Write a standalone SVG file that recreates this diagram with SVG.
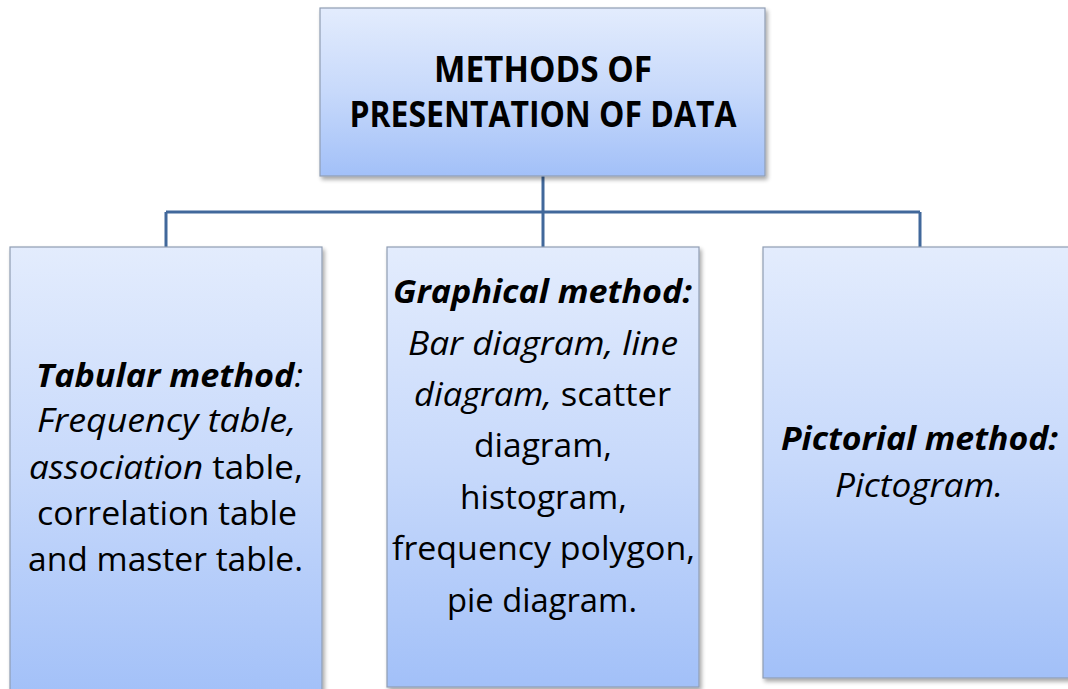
<svg xmlns="http://www.w3.org/2000/svg" width="1068" height="689" viewBox="0 0 1068 689">
<defs>
<linearGradient id="g" x1="0" y1="0" x2="0" y2="1">
<stop offset="0" stop-color="#e3ecfd"/>
<stop offset="0.5" stop-color="#c7d9fb"/>
<stop offset="1" stop-color="#a2c0f8"/>
</linearGradient>
<filter id="sh" x="-5%" y="-5%" width="115%" height="115%">
<feGaussianBlur in="SourceAlpha" stdDeviation="2"/>
<feOffset dx="2" dy="3"/>
<feComponentTransfer><feFuncA type="linear" slope="0.35"/></feComponentTransfer>
<feMerge><feMergeNode/><feMergeNode in="SourceGraphic"/></feMerge>
</filter>
</defs>
<style>
.box{fill:url(#g);stroke:#8f9db3;stroke-width:1.2;filter:url(#sh)}
.t{font-family:"Open Sans","Liberation Sans",sans-serif;fill:#000;text-anchor:middle}
.title{font-size:36px;font-weight:bold}
.l{font-size:32px}
.m{font-size:33px}
.i{font-style:italic}
.b{font-weight:bold}
.conn{fill:none;stroke:#41689b;stroke-width:3}
</style>
<rect width="1068" height="689" fill="#fff"/>
<g id="connectors">
<path class="conn" d="M543 176 V212 M166 212 H920 M166 212 V247 M543 212 V247 M920 212 V247"/>
</g>
<g id="root">
<rect class="box" x="320" y="8" width="445" height="168"/>
<text class="t title" x="543" y="82" textLength="218" lengthAdjust="spacingAndGlyphs">METHODS OF</text>
<text class="t title" x="543" y="127" textLength="387" lengthAdjust="spacingAndGlyphs">PRESENTATION OF DATA</text>
</g>
<g id="tabular">
<rect class="box" x="10" y="247" width="312" height="452"/>
<text class="t l" x="169.5" y="387" textLength="267" lengthAdjust="spacingAndGlyphs"><tspan class="b i">Tabular method</tspan><tspan class="i">:</tspan></text>
<text class="t l i" x="166.5" y="432" textLength="259" lengthAdjust="spacingAndGlyphs">Frequency table,</text>
<text class="t l" x="166" y="479" textLength="274" lengthAdjust="spacingAndGlyphs"><tspan class="i">association</tspan> table,</text>
<text class="t l" x="167" y="525" textLength="260" lengthAdjust="spacingAndGlyphs">correlation table</text>
<text class="t l" x="165.5" y="571" textLength="275" lengthAdjust="spacingAndGlyphs">and master table.</text>
</g>
<g id="graphical">
<rect class="box" x="387" y="247" width="312" height="440"/>
<text class="t m b i" x="542.5" y="303" textLength="299" lengthAdjust="spacingAndGlyphs">Graphical method:</text>
<text class="t m i" x="543" y="355" textLength="270" lengthAdjust="spacingAndGlyphs">Bar diagram, line</text>
<text class="t m" x="542.5" y="406" textLength="257" lengthAdjust="spacingAndGlyphs"><tspan class="i">diagram,</tspan> scatter</text>
<text class="t m" x="543" y="457" textLength="138" lengthAdjust="spacingAndGlyphs">diagram,</text>
<text class="t m" x="543.5" y="509" textLength="167" lengthAdjust="spacingAndGlyphs">histogram,</text>
<text class="t m" x="543.5" y="560" textLength="303" lengthAdjust="spacingAndGlyphs">frequency polygon,</text>
<text class="t m" x="542" y="612" textLength="190" lengthAdjust="spacingAndGlyphs">pie diagram.</text>
</g>
<g id="pictorial">
<rect class="box" x="763" y="247" width="320" height="431"/>
<text class="t m b i" x="919.5" y="450" textLength="277" lengthAdjust="spacingAndGlyphs">Pictorial method:</text>
<text class="t m i" x="919" y="497" textLength="168" lengthAdjust="spacingAndGlyphs">Pictogram.</text>
</g>
</svg>
